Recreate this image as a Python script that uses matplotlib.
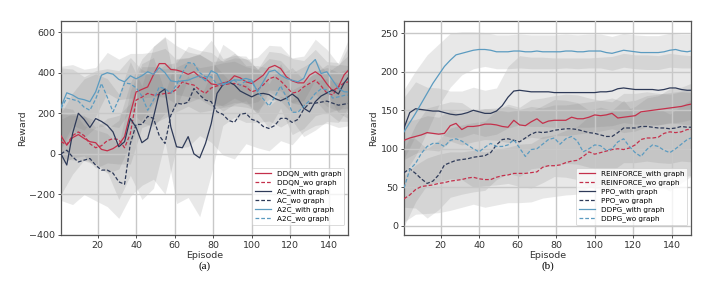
"""Reward curves with and without graph, two panels (a) and (b)."""

import matplotlib

matplotlib.use("Agg")
import matplotlib.pyplot as plt
import numpy as np

# episode grid for the mean curves, and the coarser grid used for the bands
EP = [1, 4, 7, 10, 13, 16, 19, 22, 25, 28, 31, 34, 37, 40, 43, 46, 49, 52, 55,
      58, 61, 64, 67, 70, 73, 76, 79, 82, 85, 88, 91, 94, 97, 100, 103, 106,
      109, 112, 115, 118, 121, 124, 127, 130, 133, 136, 139, 142, 145, 148, 150]
BAND_EP = EP[::2]

# ---- panel (a) ----
ddqn_with = [89, 43, 80, 95, 76, 60, 55, 22, 15, 26, 45, 85, 200, 305, 318, 330,
             390, 445, 445, 416, 413, 405, 392, 405, 380, 372, 345, 340, 350,
             355, 385, 375, 355, 347, 367, 388, 425, 436, 421, 380, 360, 350,
             350, 388, 405, 385, 345, 310, 330, 390, 410]
ddqn_wo = [60, 45, 90, 108, 90, 50, 30, 40, 65, 75, 70, 30, 100, 265, 280, 298,
           290, 292, 298, 300, 318, 355, 345, 339, 315, 298, 325, 335, 339,
           345, 347, 340, 330, 306, 315, 340, 370, 380, 360, 330, 300, 305,
           330, 347, 363, 335, 300, 290, 330, 350, 355]
ac_with = [0, -55, 100, 200, 170, 130, 174, 160, 141, 108, 35, 60, 174, 130, 55,
           76, 180, 300, 320, 133, 35, 30, 85, 0, -20, 51, 150, 298, 340, 355,
           340, 310, 295, 281, 295, 298, 292, 273, 262, 275, 295, 273, 225,
           207, 257, 285, 300, 315, 295, 350, 375]
ac_wo = [0, 18, -15, -40, -31, -23, -56, -80, -80, -95, -138, -150, 51, 145,
         145, 185, 175, 90, 51, 190, 250, 245, 255, 322, 290, 265, 257, 207,
         195, 165, 155, 195, 200, 170, 160, 135, 125, 140, 175, 175, 155, 170,
         220, 250, 250, 255, 260, 250, 240, 245, 248]
a2c_with = [232, 301, 290, 273, 267, 257, 306, 388, 400, 393, 367, 355, 385,
            370, 385, 405, 392, 425, 400, 360, 355, 360, 363, 375, 385, 360,
            410, 395, 340, 352, 365, 363, 372, 363, 306, 355, 405, 413, 388,
            372, 363, 355, 372, 437, 465, 396, 405, 363, 322, 306, 305]
a2c_wo = [224, 275, 268, 260, 230, 215, 270, 347, 280, 207, 270, 350, 345, 326,
          285, 215, 265, 330, 320, 300, 340, 400, 450, 445, 400, 380, 380, 342,
          345, 355, 363, 339, 360, 355, 310, 270, 236, 281, 335, 280, 205, 205,
          235, 262, 298, 320, 316, 275, 281, 288, 290]

ddqn_with_std = [110, 110, 110, 110, 110, 120, 150, 150, 140, 130, 120, 110, 110,
                 110, 110, 110, 110, 110, 110, 110, 110, 110, 110, 110, 120, 150]
ddqn_wo_std = [110, 110, 100, 100, 110, 120, 150, 150, 140, 120, 110, 110, 110,
               110, 110, 110, 100, 100, 100, 100, 100, 100, 100, 100, 110, 130]
ac_with_std = [200, 200, 200, 220, 230, 260, 280, 280, 350, 260, 280, 300, 290,
               250, 200, 160, 140, 140, 130, 130, 130, 140, 140, 140, 140, 150]
ac_wo_std = [230, 235, 170, 175, 180, 180, 260, 300, 300, 250, 220, 220, 200,
             200, 200, 180, 150, 130, 110, 110, 110, 110, 110, 110, 110, 110]
a2c_with_std = [200, 150, 150, 120, 100, 100, 110, 110, 110, 120, 110, 110, 110,
                150, 130, 120, 110, 110, 100, 110, 110, 110, 100, 110, 120, 130]
a2c_wo_std = [200, 150, 150, 140, 140, 140, 130, 130, 130, 120, 110, 80, 110,
              120, 110, 110, 110, 110, 110, 110, 110, 110, 110, 110, 120, 130]

# ---- panel (b) ----
reinforce_with = [111, 114, 116, 118, 121, 120, 119, 120, 130, 133, 125, 129,
                  129, 130, 132, 132, 131, 129, 128, 137, 131, 130, 135, 139,
                  133, 136, 137, 137, 137, 141, 139, 139, 141, 144, 143, 144,
                  146, 140, 141, 142, 143, 148, 149, 150, 151, 152, 153, 154,
                  155, 157, 158]
reinforce_wo = [35, 40, 47, 51, 52, 53, 55, 56, 58, 59, 60, 62, 63, 61, 60, 60,
                63, 65, 66, 68, 68, 68, 69, 70, 76, 78, 78, 79, 82, 84, 85, 90,
                96, 93, 95, 97, 99, 100, 99, 101, 105, 112, 114, 114, 115, 120,
                122, 121, 122, 125, 125]
ppo_with = [127, 147, 152, 151, 150, 149, 149, 147, 145, 144, 145, 147, 150,
            148, 146, 146, 149, 156, 167, 175, 176, 175, 174, 174, 174, 174,
            173, 173, 173, 173, 173, 173, 173, 173, 174, 174, 175, 178, 179,
            178, 177, 177, 177, 177, 176, 177, 179, 179, 177, 176, 176]
ppo_wo = [69, 74, 68, 61, 55, 58, 66, 79, 82, 85, 86, 87, 89, 90, 91, 95, 105,
          112, 113, 111, 109, 114, 119, 122, 121, 122, 124, 125, 126, 126, 125,
          123, 121, 120, 118, 116, 116, 121, 127, 127, 127, 129, 129, 128, 127,
          127, 126, 127, 129, 128, 128]
ddpg_with = [122, 134, 146, 159, 172, 185, 196, 207, 215, 222, 224, 226, 228,
             229, 229, 228, 226, 226, 226, 227, 227, 226, 226, 227, 226, 226,
             226, 226, 227, 227, 226, 226, 227, 227, 227, 225, 224, 226, 228,
             227, 226, 225, 225, 225, 225, 226, 228, 229, 227, 226, 227]
ddpg_wo = [49, 73, 81, 94, 103, 107, 107, 103, 111, 113, 110, 105, 100, 96, 102,
           107, 103, 103, 105, 112, 101, 90, 99, 100, 106, 112, 114, 106, 113,
           116, 110, 96, 100, 105, 104, 98, 100, 109, 113, 103, 95, 90, 99, 105,
           103, 98, 95, 100, 106, 112, 114]

reinforce_with_std = [25, 22, 22, 22, 20, 20, 20, 20, 20, 20, 20, 20, 20, 20,
                      20, 20, 20, 20, 20, 20, 20, 20, 20, 20, 20, 20]
reinforce_wo_std = [30, 32, 36, 38, 38, 36, 35, 36, 36, 36, 38, 38, 40, 40, 42,
                    44, 46, 48, 50, 50, 50, 52, 54, 56, 58, 60]
ppo_with_std = [40, 35, 30, 30, 30, 30, 30, 30, 30, 40, 45, 45, 45, 45, 45, 45,
                45, 45, 45, 45, 45, 45, 45, 45, 45, 45]
ppo_wo_std = [45, 45, 45, 45, 45, 45, 45, 45, 45, 45, 45, 45, 45, 45, 45, 45,
              45, 45, 45, 45, 45, 45, 45, 45, 45, 45]
ddpg_with_std = [55, 55, 50, 40, 35, 28, 24, 22, 22, 22, 22, 22, 22, 22, 22, 22,
                 22, 22, 22, 22, 22, 22, 22, 22, 22, 22]
ddpg_wo_std = [50, 50, 50, 50, 50, 50, 50, 50, 50, 50, 50, 50, 50, 50, 50, 50,
               50, 50, 50, 50, 50, 50, 50, 50, 50, 50]

RED = "#c4304b"
NAVY = "#2e3a58"
BLUE = "#5b9bc0"

PANEL_A = [
    ("DDQN_with graph", ddqn_with, ddqn_with_std, RED, "-"),
    ("DDQN_wo graph", ddqn_wo, ddqn_wo_std, RED, "--"),
    ("AC_with graph", ac_with, ac_with_std, NAVY, "-"),
    ("AC_wo graph", ac_wo, ac_wo_std, NAVY, "--"),
    ("A2C_with graph", a2c_with, a2c_with_std, BLUE, "-"),
    ("A2C_wo graph", a2c_wo, a2c_wo_std, BLUE, "--"),
]
PANEL_B = [
    ("REINFORCE_with graph", reinforce_with, reinforce_with_std, RED, "-"),
    ("REINFORCE_wo graph", reinforce_wo, reinforce_wo_std, RED, "--"),
    ("PPO_with graph", ppo_with, ppo_with_std, NAVY, "-"),
    ("PPO_wo graph", ppo_wo, ppo_wo_std, NAVY, "--"),
    ("DDPG_with graph", ddpg_with, ddpg_with_std, BLUE, "-"),
    ("DDPG_wo graph", ddpg_wo, ddpg_wo_std, BLUE, "--"),
]


def draw_panel(ax, series, ylim, yticks, caption):
    for label, mean, std, color, ls in series:
        m = np.asarray(mean, dtype=float)[::2]
        s = np.asarray(std, dtype=float)
        ax.fill_between(BAND_EP, m - s, m + s, color="#7a7a7a", alpha=0.17,
                        linewidth=0, zorder=1)
    for label, mean, std, color, ls in series:
        ax.plot(EP, mean, color=color, linestyle=ls, linewidth=0.9,
                dashes=(3, 1.6) if ls == "--" else (None, None),
                label=label, zorder=3)

    ax.set_xlim(1, 150)
    ax.set_ylim(*ylim)
    ax.set_xticks([20, 40, 60, 80, 100, 120, 140])
    ax.set_yticks(yticks)
    ax.set_axisbelow(False)
    ax.grid(True, color="#c8c8c8", linewidth=1.0)
    ax.tick_params(labelsize=6.8, colors="#333333", length=2.5, width=0.6,
                   pad=1.5)
    for sp in ax.spines.values():
        sp.set_color("#555555")
        sp.set_linewidth(0.9)
    ax.set_xlabel("Episode", fontsize=6.8, color="#333333", labelpad=1)
    ax.set_ylabel("Reward", fontsize=6.8, color="#333333", labelpad=2)
    leg = ax.legend(loc="lower right", fontsize=5.2, frameon=True,
                    handlelength=2.2, borderpad=0.4, labelspacing=0.3,
                    bbox_to_anchor=(1.0, 0.03))
    leg.get_frame().set_edgecolor("#cccccc")
    leg.get_frame().set_linewidth(0.6)
    leg.set_zorder(5)
    ax.text(0.5, -0.125, caption, transform=ax.transAxes, ha="center",
            va="top", fontsize=8, family=["Liberation Serif", "DejaVu Serif"])


fig = plt.figure(figsize=(7.11, 2.97), dpi=100)
ax_a = fig.add_axes([0.0858, 0.2088, 0.4037, 0.7205])
ax_b = fig.add_axes([0.5682, 0.2088, 0.4037, 0.7205])

draw_panel(ax_a, PANEL_A, (-400, 655), [-400, -200, 0, 200, 400, 600], "(a)")
draw_panel(ax_b, PANEL_B, (-12, 266), [0, 50, 100, 150, 200, 250], "(b)")

fig.savefig("out.png", dpi=100)
